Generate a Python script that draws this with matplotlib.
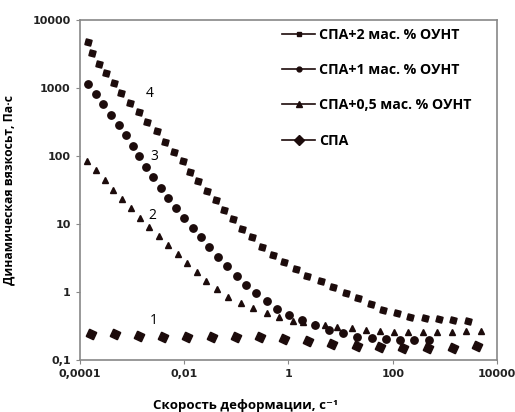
import matplotlib
matplotlib.use('Agg')
import matplotlib.pyplot as plt
from matplotlib.lines import Line2D

# 4: СПА+2 мас. % ОУНТ (квадраты)
x4 = [1.43e-4, 1.70e-4, 2.32e-4, 3.16e-4, 4.5e-4, 6.1e-4, 9.1e-4, 1.36e-3, 1.93e-3, 3.0e-3,
      4.3e-3, 6.4e-3, 9.5e-3, 0.0129, 0.0184, 0.0274, 0.0408, 0.058, 0.0865, 0.129,
      0.2, 0.311, 0.506, 0.82, 1.4, 2.28, 4.2, 7.2, 12.8, 21.7,
      38.5, 65, 121, 216, 419, 778, 1440, 2800]
y4 = [4800, 3300, 2300, 1660, 1190, 845, 600, 444, 316, 233,
      161, 116, 84, 58, 43, 30.5, 22.5, 16.1, 11.9, 8.4,
      6.4, 4.6, 3.5, 2.76, 2.18, 1.72, 1.45, 1.19, 0.97, 0.82,
      0.67, 0.54, 0.49, 0.43, 0.41, 0.40, 0.39, 0.375]

# 3: СПА+1 мас. % ОУНТ (круги)
x3 = [1.43e-4, 2.03e-4, 2.76e-4, 3.93e-4, 5.6e-4, 7.6e-4, 1.04e-3, 1.36e-3, 1.85e-3, 2.52e-3,
      3.59e-3, 4.89e-3, 6.97e-3, 9.9e-3, 0.0148, 0.021, 0.030, 0.0446, 0.066, 0.103,
      0.153, 0.239, 0.388, 0.60, 1.03, 1.82, 3.24, 6.0, 11.2, 20.7,
      40, 75, 139, 258, 500]
y3 = [1170, 817, 582, 401, 286, 204, 140, 100, 69, 49,
      33.8, 24.1, 17.2, 12.3, 8.7, 6.4, 4.6, 3.27, 2.41, 1.72,
      1.27, 0.97, 0.74, 0.56, 0.46, 0.39, 0.33, 0.28, 0.25, 0.22,
      0.21, 0.204, 0.197, 0.197, 0.197]

# 2: СПА+0,5 мас. % ОУНТ (треугольники)
x2 = [1.36e-4, 2.03e-4, 3.02e-4, 4.3e-4, 6.4e-4, 9.5e-4, 1.42e-3, 2.11e-3, 3.28e-3, 4.89e-3,
      7.6e-3, 0.0113, 0.0176, 0.0262, 0.0426, 0.069, 0.123, 0.209, 0.388, 0.66,
      1.22, 1.9, 3.24, 5.0, 8.6, 16.6, 31, 57, 106, 198,
      383, 711, 1380, 2560, 4980]
y2 = [84, 62, 44, 31.6, 23.3, 17.2, 12.3, 9.0, 6.7, 4.9,
      3.6, 2.67, 1.97, 1.45, 1.11, 0.84, 0.69, 0.58, 0.49, 0.43,
      0.375, 0.36, 0.34, 0.33, 0.31, 0.30, 0.28, 0.27, 0.26, 0.26,
      0.26, 0.26, 0.26, 0.27, 0.27]

# 1: СПА (ромбы)
x1 = [1.63e-4, 4.7e-4, 1.36e-3, 3.9e-3, 0.0113, 0.034, 0.099, 0.285, 0.82, 2.38,
      6.9, 20.7, 57, 158, 479, 1440, 4170]
y1 = [0.241, 0.241, 0.225, 0.218, 0.218, 0.218, 0.218, 0.218, 0.204, 0.19,
      0.172, 0.161, 0.155, 0.15, 0.15, 0.15, 0.161]

labels = ['СПА+2 мас. % ОУНТ', 'СПА+1 мас. % ОУНТ', 'СПА+0,5 мас. % ОУНТ', 'СПА']
xticks = [1e-4, 1e-2, 1, 1e2, 1e4]
xticklabels = ['0,0001', '0,01', '1', '100', '10000']
yticks = [0.1, 1, 10, 100, 1000, 10000]
yticklabels = ['0,1', '1', '10', '100', '1000', '10000']

col = '#1c0b0b'
fam = ['Open Sans', 'DejaVu Sans']

fig = plt.figure(figsize=(5.15, 4.12), dpi=100)
ax = fig.add_axes([0.155, 0.126, 0.81, 0.825])

ax.plot(x4, y4, ls='none', marker=(4, 0, 30), ms=6, color=col)
ax.plot(x3, y3, ls='none', marker='o', ms=5.3, color=col)
ax.plot(x2, y2, ls='none', marker='^', ms=5, color=col)
ax.plot(x1, y1, ls='none', marker=(4, 0, 20), ms=8, color=col)

ax.set_xscale('log')
ax.set_yscale('log')
ax.set_xlim(1e-4, 1e4)
ax.set_ylim(0.1, 1e4)
ax.set_xticks(xticks)
ax.set_xticklabels(xticklabels)
ax.set_yticks(yticks)
ax.set_yticklabels(yticklabels)
ax.minorticks_off()
ax.tick_params(length=3, color='#888888', labelsize=8, labelcolor='#222222')
for t in ax.get_xticklabels() + ax.get_yticklabels():
    t.set_fontweight('bold')
for s in ax.spines.values():
    s.set_color('#888888')
    s.set_linewidth(1.2)

ax.set_xlabel('Скорость деформации, с⁻¹', family=fam, fontweight='bold', fontsize=9.5)
ax.xaxis.set_label_coords(0.396, -0.115)
ax.set_ylabel('Динамическая вязкосьт, Па·с', family=fam, fontweight='bold', fontsize=8.7)
ax.yaxis.set_label_coords(-0.155, 0.5)

# номера кривых
ax.text(2.2e-3, 845, '4', fontsize=10, family=fam, va='center', ha='center')
ax.text(2.63e-3, 100, '3', fontsize=10, family=fam, va='center', ha='center')
ax.text(2.5e-3, 13.6, '2', fontsize=10, family=fam, va='center', ha='center')
ax.text(2.63e-3, 0.387, '1', fontsize=10, family=fam, va='center', ha='center')

handles = [
    Line2D([], [], color=col, lw=1.2, marker='s', ms=3.5),
    Line2D([], [], color=col, lw=1.2, marker='o', ms=3.5),
    Line2D([], [], color=col, lw=1.2, marker='^', ms=4),
    Line2D([], [], color=col, lw=1.2, marker='D', ms=5),
]
leg = ax.legend(handles, labels, loc='upper left', bbox_to_anchor=(0.455, 1.015), frameon=False,
                labelspacing=1.5, handlelength=2.3, handletextpad=0.3,
                prop={'family': fam, 'weight': 'bold', 'size': 10.2})

fig.savefig('out.png', dpi=100)
